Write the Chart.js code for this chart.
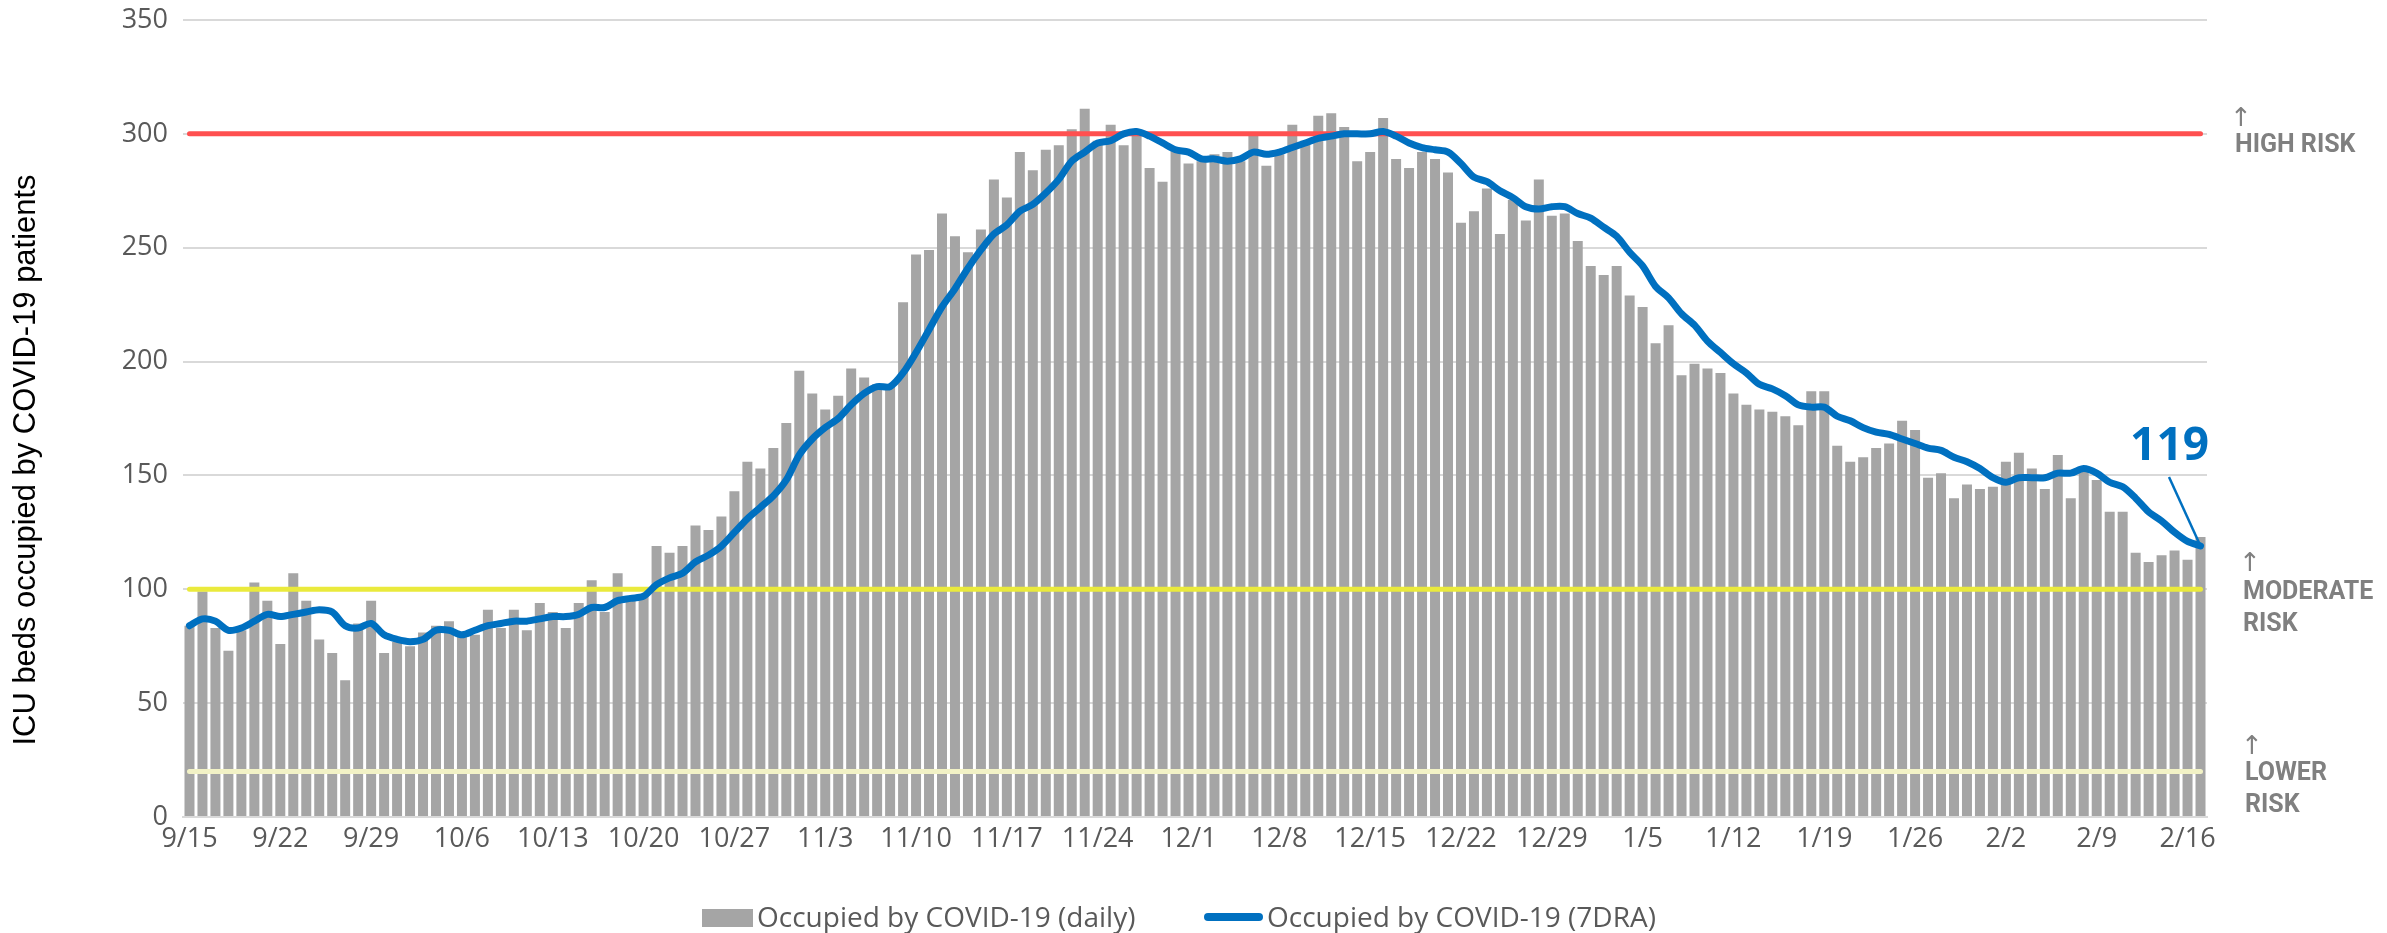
<!DOCTYPE html>
<html>
<head>
<meta charset="utf-8">
<script src="https://cdn.jsdelivr.net/npm/chart.js@4.4.1/dist/chart.umd.min.js"></script>
<style>
  html, body { margin: 0; padding: 0; background: #ffffff; }
  #wrap { width: 2387px; height: 933px; position: relative; }
  canvas { display: block; }
</style>
</head>
<body>
<div id="wrap"><canvas id="c" width="2387" height="933"></canvas></div>
<script>
// ---------------- DATA ----------------
const sepDays = ['9/15','9/16','9/17','9/18','9/19','9/20','9/21','9/22','9/23','9/24','9/25','9/26','9/27','9/28','9/29','9/30'];
const octDays = ['10/1','10/2','10/3','10/4','10/5','10/6','10/7','10/8','10/9','10/10','10/11','10/12','10/13','10/14','10/15','10/16','10/17','10/18','10/19','10/20','10/21','10/22','10/23','10/24','10/25','10/26','10/27','10/28','10/29','10/30','10/31'];
const novDays = ['11/1','11/2','11/3','11/4','11/5','11/6','11/7','11/8','11/9','11/10','11/11','11/12','11/13','11/14','11/15','11/16','11/17','11/18','11/19','11/20','11/21','11/22','11/23','11/24','11/25','11/26','11/27','11/28','11/29','11/30'];
const decDays = ['12/1','12/2','12/3','12/4','12/5','12/6','12/7','12/8','12/9','12/10','12/11','12/12','12/13','12/14','12/15','12/16','12/17','12/18','12/19','12/20','12/21','12/22','12/23','12/24','12/25','12/26','12/27','12/28','12/29','12/30','12/31'];
const janDays = ['1/1','1/2','1/3','1/4','1/5','1/6','1/7','1/8','1/9','1/10','1/11','1/12','1/13','1/14','1/15','1/16','1/17','1/18','1/19','1/20','1/21','1/22','1/23','1/24','1/25','1/26','1/27','1/28','1/29','1/30','1/31'];
const febDays = ['2/1','2/2','2/3','2/4','2/5','2/6','2/7','2/8','2/9','2/10','2/11','2/12','2/13','2/14','2/15','2/16','2/17'];
const categories = [...sepDays, ...octDays, ...novDays, ...decDays, ...janDays, ...febDays];

const tickLabels = ['9/15','9/22','9/29','10/6','10/13','10/20','10/27','11/3','11/10','11/17','11/24','12/1','12/8','12/15','12/22','12/29','1/5','1/12','1/19','1/26','2/2','2/9','2/16'];

const dailyBeds = [
  // Sep
  84,99,83,73,82,103,95,76,107,95,78,72,60,85,95,72,
  // Oct
  77,75,81,84,86,79,80,91,83,91,82,94,90,83,94,104,90,107,95,97,119,116,119,128,126,132,143,156,153,162,173,
  // Nov
  196,186,179,185,197,193,190,189,226,247,249,265,255,248,258,280,272,292,284,293,295,302,311,297,304,295,301,285,279,293,
  // Dec
  287,288,291,292,288,300,286,291,304,297,308,309,303,288,292,307,289,285,292,289,283,261,266,276,256,271,262,280,264,265,253,
  // Jan
  242,238,242,229,224,208,216,194,199,197,195,186,181,179,178,176,172,187,187,163,156,158,162,164,174,170,149,151,140,146,144,
  // Feb
  145,156,160,153,144,159,140,154,148,134,134,116,112,115,117,113,123
];

const avg7Beds = [
  // Sep
  84,87,86,82,83,86,89,88,89,90,91,90,84,83,85,80,
  // Oct
  78,77,78,82,82,80,82,84,85,86,86,87,88,88,89,92,92,95,96,97,102,105,107,112,115,119,125,131,136,141,148,
  // Nov
  159,166,171,175,181,186,189,189,195,204,214,224,232,241,249,256,260,266,269,274,280,288,292,296,297,300,301,299,296,293,
  // Dec
  292,289,289,288,289,292,291,292,294,296,298,299,300,300,300,301,299,296,294,293,292,287,281,279,275,272,268,267,268,268,265,
  // Jan
  263,259,255,248,242,233,228,221,216,209,204,199,195,190,188,185,181,180,180,176,174,171,169,168,166,164,162,161,158,156,153,
  // Feb
  149,147,149,149,149,151,151,153,151,147,145,140,134,130,125,121,119
];

const riskLevels = [300, 100, 20];
const riskNames = [['HIGH RISK'], ['MODERATE', 'RISK'], ['LOWER', 'RISK']];
const yTicks = [0, 50, 100, 150, 200, 250, 300, 350];
const seriesNames = ['Occupied by COVID-19 (daily)', 'Occupied by COVID-19 (7DRA)'];
const yTitle = 'ICU beds occupied by COVID-19 patients';

// ---------------- STYLE ----------------
const GRAY_TXT = '#595959';
const BAR_COL = '#A5A5A5';
const BLUE = '#0070C0';
const riskColors = ['#FF5050', '#EAEA3C', '#F2F2C6'];
const TICK_FONT = '"Open Sans", "Liberation Sans", sans-serif';

const overlay = {
  id: 'overlay',
  afterDatasetDraw(chart, args) {
    if (args.index !== 0) return; // after bars, before the 7DRA line
    const ctx = chart.ctx;
    const xs = chart.scales.x, ys = chart.scales.y;
    const x0 = xs.getPixelForValue(0);
    const x1 = xs.getPixelForValue(categories.length - 1);
    ctx.save();
    ctx.lineCap = 'round';
    ctx.lineWidth = 5;
    riskLevels.forEach((v, i) => {
      const py = ys.getPixelForValue(v);
      ctx.strokeStyle = riskColors[i];
      ctx.beginPath();
      ctx.moveTo(x0, py);
      ctx.lineTo(x1, py);
      ctx.stroke();
    });
    ctx.restore();
  },
  afterDraw(chart) {
    const ctx = chart.ctx;
    const xs = chart.scales.x, ys = chart.scales.y;
    ctx.save();

    // Y axis title
    ctx.save();
    ctx.translate(26, 460);
    ctx.rotate(-Math.PI / 2);
    ctx.font = '32px "Liberation Sans", Arial, sans-serif';
    ctx.fillStyle = '#000000';
    ctx.textAlign = 'center';
    ctx.textBaseline = 'middle';
    ctx.fillText(yTitle, 0, 0, 571);
    ctx.restore();

    // Risk labels
    const riskPos = [
      { ax: 2241, ab: 126, x: 2235, b: [152] },
      { ax: 2250, ab: 571, x: 2243, b: [599, 631] },
      { ax: 2252, ab: 754, x: 2245, b: [780, 812] }
    ];
    riskPos.forEach((p, i) => {
      ctx.fillStyle = '#808080';
      ctx.textAlign = 'center';
      ctx.textBaseline = 'alphabetic';
      ctx.font = '26px Roboto, "DejaVu Sans", sans-serif';
      ctx.fillText('\u2191', p.ax, p.ab);
      ctx.textAlign = 'left';
      ctx.font = 'bold 25px Roboto, "DejaVu Sans", sans-serif';
      riskNames[i].forEach((t, k) => ctx.fillText(t, p.x, p.b[k]));
    });

    // Last value callout
    const li = avg7Beds.length - 1;
    const lx = xs.getPixelForValue(li);
    const lyv = ys.getPixelForValue(avg7Beds[li]);
    ctx.strokeStyle = BLUE;
    ctx.lineWidth = 2.5;
    ctx.beginPath();
    ctx.moveTo(2169, 477);
    ctx.lineTo(lx, lyv);
    ctx.stroke();
    ctx.fillStyle = BLUE;
    ctx.font = 'bold 46px "Open Sans", sans-serif';
    ctx.textAlign = 'right';
    ctx.textBaseline = 'alphabetic';
    ctx.fillText(String(Math.round(avg7Beds[li])), 2209, 460);

    // Legend
    ctx.fillStyle = BAR_COL;
    ctx.fillRect(702, 909, 51, 18);
    ctx.strokeStyle = BLUE;
    ctx.lineWidth = 8;
    ctx.lineCap = 'round';
    ctx.beginPath();
    ctx.moveTo(1208, 917);
    ctx.lineTo(1259, 917);
    ctx.stroke();
    ctx.fillStyle = GRAY_TXT;
    ctx.font = '28px ' + TICK_FONT;
    ctx.textAlign = 'left';
    ctx.textBaseline = 'alphabetic';
    ctx.fillText(seriesNames[0], 757, 927);
    ctx.fillText(seriesNames[1], 1267, 927);

    ctx.restore();
  }
};

new Chart(document.getElementById('c'), {
  data: {
    labels: categories,
    datasets: [
      {
        type: 'bar',
        label: seriesNames[0],
        data: dailyBeds,
        backgroundColor: BAR_COL,
        barPercentage: 0.77,
        categoryPercentage: 1.0,
        order: 2
      },
      {
        type: 'line',
        label: seriesNames[1],
        data: avg7Beds,
        borderColor: BLUE,
        borderWidth: 7,
        borderCapStyle: 'round',
        borderJoinStyle: 'round',
        pointRadius: 0,
        tension: 0.3,
        fill: false,
        order: 1
      }
    ]
  },
  options: {
    responsive: false,
    devicePixelRatio: 1,
    animation: false,
    layout: { padding: { top: 20, right: 180, left: 0, bottom: 0 } },
    plugins: {
      legend: { display: false },
      tooltip: { enabled: false },
      title: { display: false }
    },
    scales: {
      x: {
        type: 'category',
        offset: true,
        grid: { display: false, drawTicks: false },
        border: { display: true, color: '#D9D9D9', width: 2 },
        ticks: {
          autoSkip: false,
          maxRotation: 0,
          minRotation: 0,
          padding: 6,
          color: GRAY_TXT,
          font: { family: TICK_FONT, size: 27 },
          callback: function(value, index) {
            const lab = categories[index];
            return tickLabels.includes(lab) ? lab : '';
          }
        },
        afterFit: function(s) { s.height = 116; }
      },
      y: {
        min: 0,
        max: 350,
        afterBuildTicks: function(s) { s.ticks = yTicks.map(v => ({ value: v })); },
        grid: { color: '#D9D9D9', lineWidth: 2, drawTicks: false },
        border: { display: false },
        ticks: {
          padding: 15,
          color: GRAY_TXT,
          font: { family: TICK_FONT, size: 27 }
        },
        afterFit: function(s) { s.width = 183; s.paddingTop = 16; s.paddingBottom = 16; }
      }
    }
  },
  plugins: [overlay]
});
</script>
</body>
</html>
